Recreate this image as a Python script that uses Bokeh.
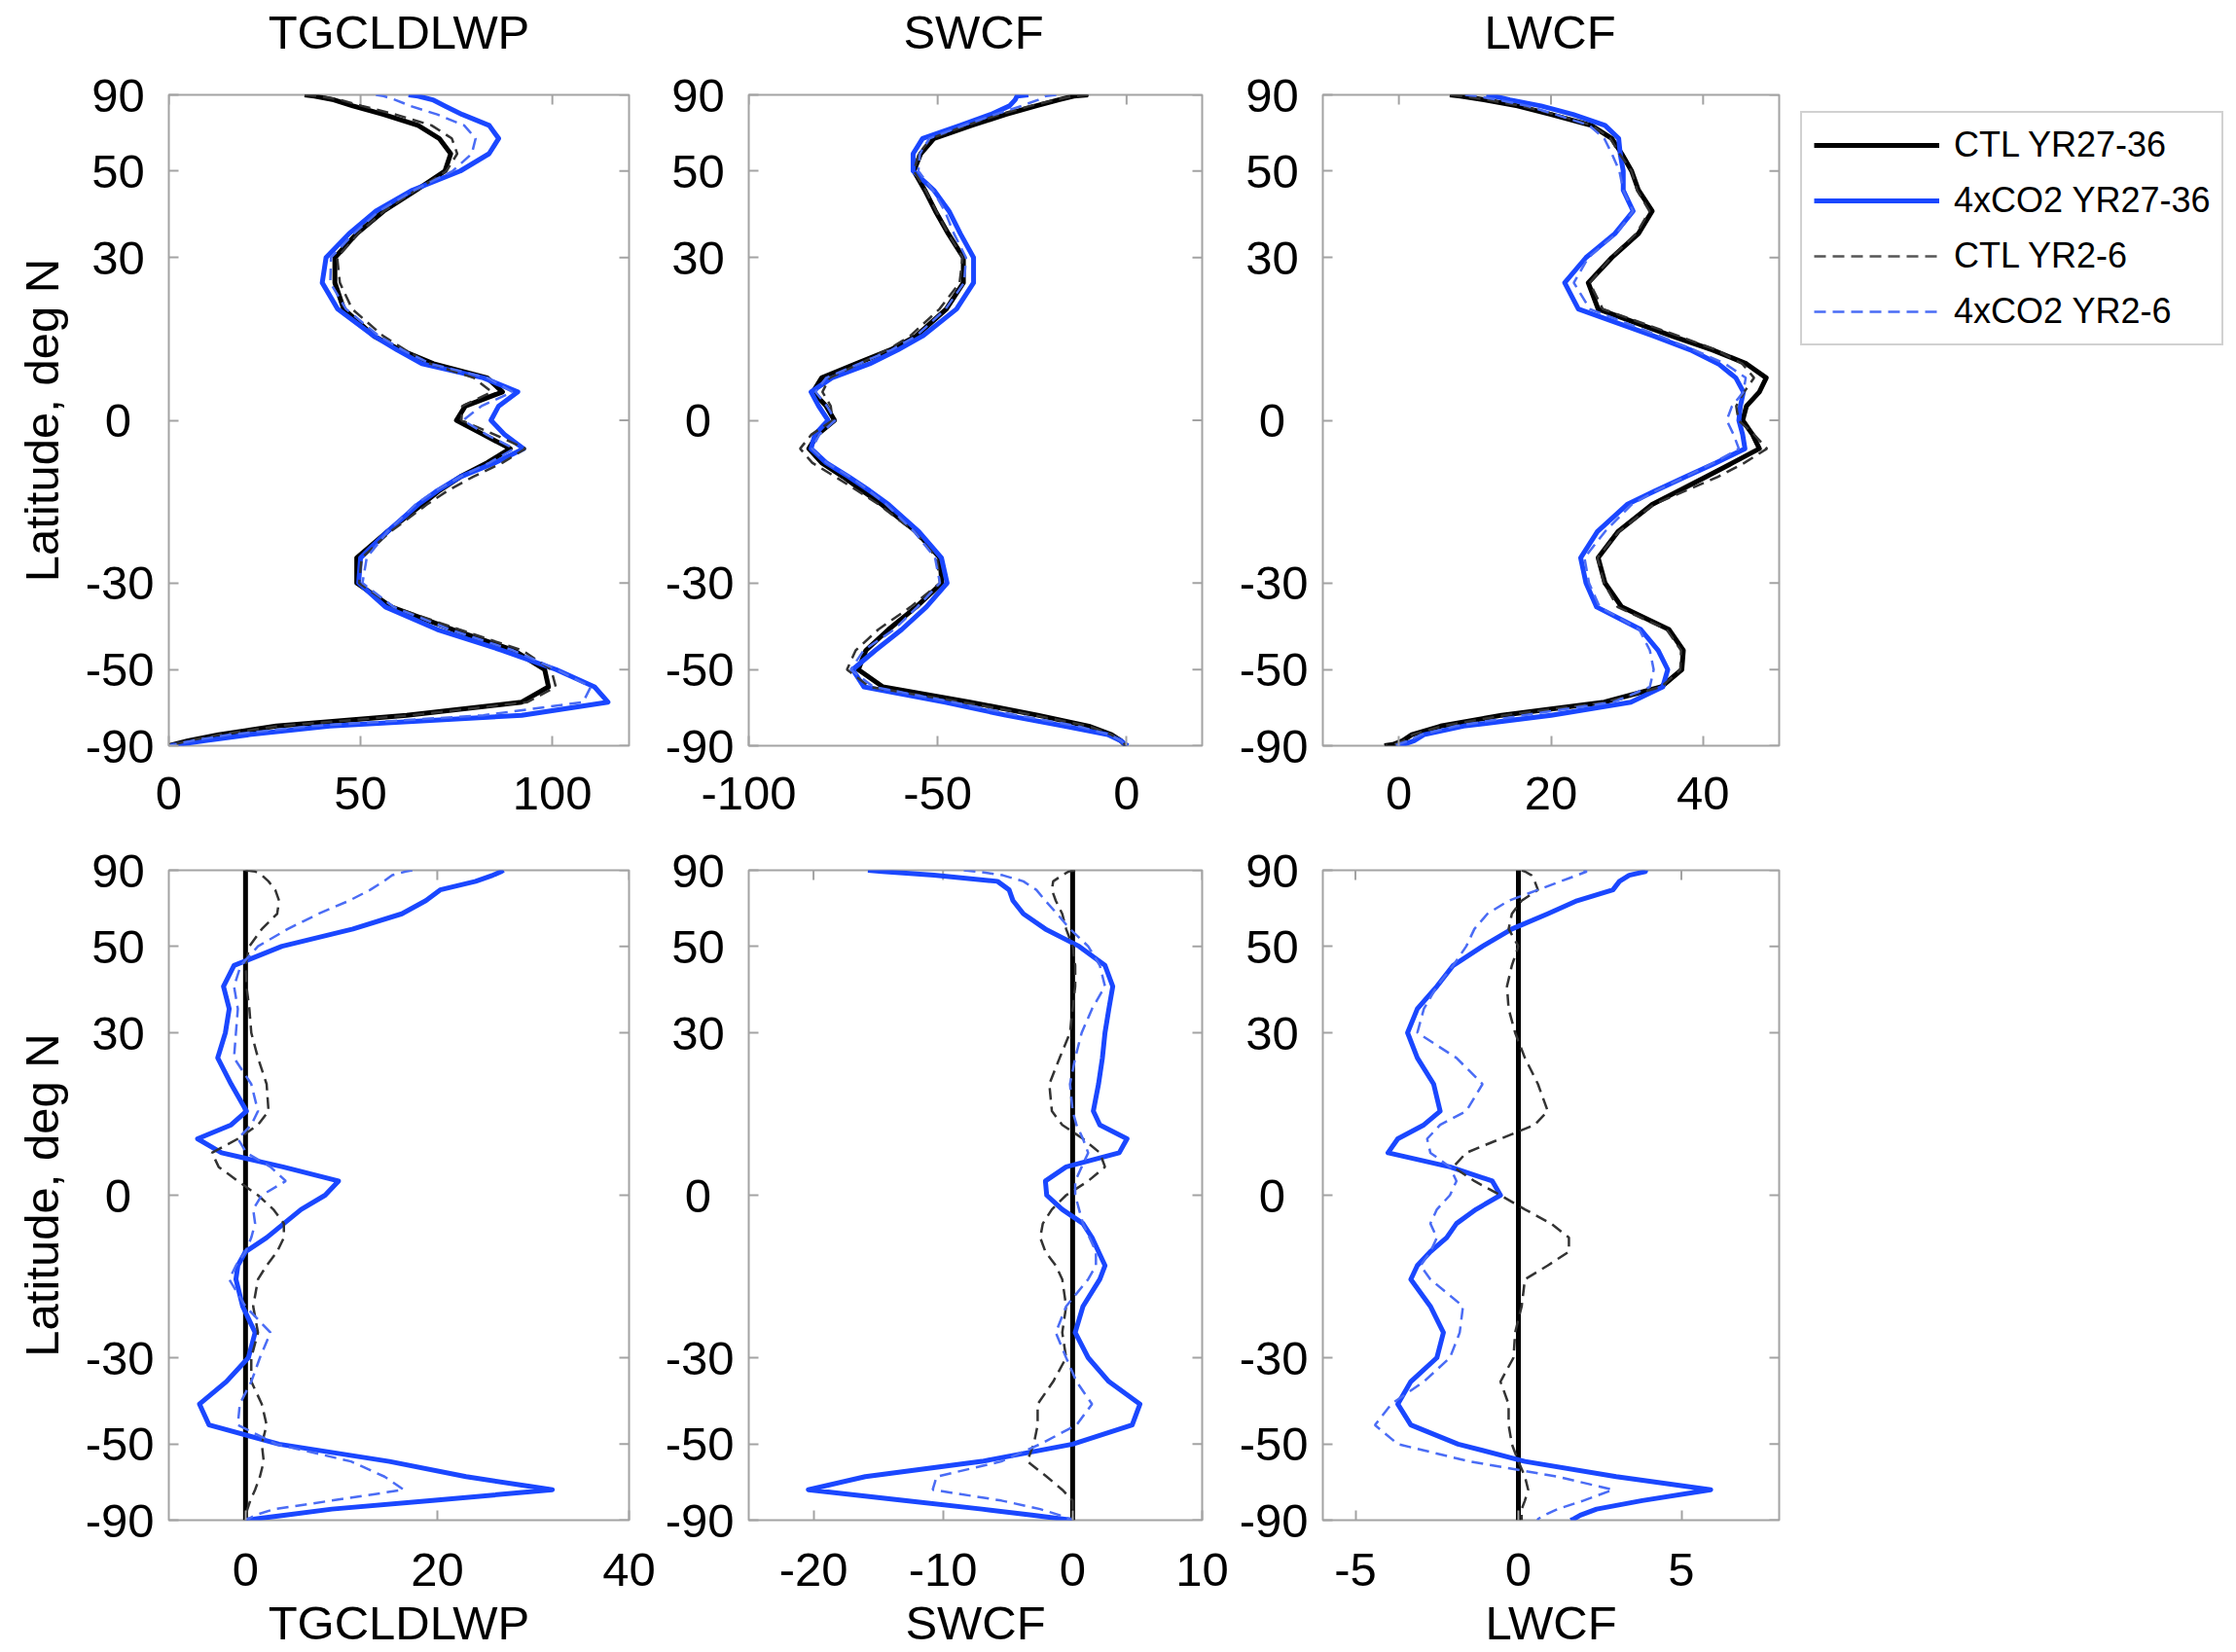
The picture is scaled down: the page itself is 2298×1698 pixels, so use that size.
import numpy as np
from bokeh.plotting import figure
from bokeh.models import Range1d, FixedTicker, CustomJSTickFormatter, Legend, LegendItem
from bokeh.core.properties import value
from bokeh.layouts import row, column
from bokeh.embed import file_html
from bokeh.resources import INLINE

# ---------------- data (latitude grid, north -> south) ----------------
LAT = [90, 85, 80, 75, 70, 65, 60, 55, 50, 45, 40, 35, 30, 25, 20, 15, 12.5, 10, 7.5, 5, 2.5, 0,
       -2.5, -5, -7.5, -10, -12.5, -15, -20, -25, -30, -35, -40, -45, -50, -55, -60, -65, -70, -75,
       -80, -85, -90]
LAT_TICKS = [-90, -50, -30, 0, 30, 50, 90]
POLE_LAT = [-90, 90]
ZERO_LINE = [0, 0]

SERIES = ["CTL YR27-36", "4xCO2 YR27-36", "CTL YR2-6", "4xCO2 YR2-6"]

# --- top row: absolute fields
LWP_CTL27 = [35.4, 38, 43, 48, 56, 65, 70.5, 73.5, 72, 64.5, 56, 49, 43.3, 43.3, 45.6, 53.5, 60.3, 69, 83, 87, 77.3, 75,
             82, 89, 83, 76, 70.5, 66, 57, 49, 49, 58, 74, 90, 98, 99, 92, 62, 28, 13, 5, 1.3, 0]
LWP_4X27 = [62.5, 65, 68.8, 72, 76.5, 83.5, 86, 83.5, 76, 63.5, 54, 47, 41, 40, 44, 53.5, 59.5, 66, 82, 91, 86, 84,
            87.5, 92.5, 85, 76, 70, 65, 57, 50, 49.5, 56.5, 70, 87, 101, 111, 114.5, 92, 42, 21, 9, 2.5, 0.5]
LWP_CTL26 = [35.4, 39, 44.7, 50.4, 59.1, 68.5, 73.8, 75.2, 72.4, 64.5, 56.1, 49.4, 43.9, 44.6, 47.8, 55.9, 61.6, 68.2,
             79.5, 84.2, 76.5, 76.3, 84.9, 93, 87, 79.3, 72.7, 67.3, 57.8, 50.3, 49.6, 58.6, 75.7, 92.2, 99.7, 100.9,
             93.5, 63, 28.5, 13.2, 5, 1.3, 0]
LWP_4X26 = [54, 56, 59, 63, 70, 77, 80, 79, 74, 64, 54.8, 48.2, 42.3, 42.1, 46.2, 54.8, 60.9, 68.2, 83.1, 89.6, 81.5,
            76.7, 82.8, 90, 83.6, 76, 69.5, 64.3, 57, 51.6, 50.5, 58.6, 73.2, 89.8, 101.2, 110, 108, 82, 37, 16, 6,
            1.6, 0]

SW_CTL27 = [-10.2, -14, -18, -24, -32, -41, -51, -54.5, -56.3, -53.4, -50.6, -47.2, -43.2, -43.2, -47.7, -55.7, -62.5,
            -71.6, -80.7, -83, -79.5, -77.3, -81.8, -84.1, -80.7, -75, -69.9, -64.8, -55.7, -49.4, -48.9, -55.7,
            -63, -69, -71, -64.5, -41.5, -23.5, -10, -4, -1.5, -0.5, 0]
SW_4X27 = [-26, -29, -29.5, -31, -36, -44, -54, -56.5, -56.5, -51, -47, -44, -40.5, -40.5, -45, -54, -60.5, -68,
           -78, -83.5, -81.5, -79, -82.5, -83.5, -79.5, -73.5, -68, -63, -55, -49, -47.5, -53, -59.5, -66.5, -72.5,
           -69.5, -48, -32, -16.5, -5, -1.5, -0.3, 0.4]
SW_CTL26 = [-10, -14.3, -18.8, -25.5, -33.6, -42.3, -51.8, -55, -56.3, -53.2, -50.4, -47.2, -43.4, -44.2, -49.5,
            -57.3, -63.3, -70.8, -78.6, -80.5, -78.3, -77.8, -83.4, -86.4, -83.2, -77.1, -71.2, -65.6, -56.2,
            -50.2, -49.4, -57.2, -65.7, -71.7, -74, -68, -43.5, -24.3, -10, -4, -1.5, -0.5, 0]
SW_4X26 = [-18.6, -21.4, -23.4, -27.8, -34.8, -43.1, -52.2, -54.7, -55.1, -51.3, -48.1, -45.7, -42.5, -43, -47.9,
           -55.7, -62.2, -70.8, -79.5, -82.3, -79.3, -77.1, -81.3, -83.3, -79.4, -73.2, -68.1, -63.6, -56.2,
           -50.7, -49.4, -55.4, -61.5, -69.6, -73, -67, -46, -29, -13, -4.5, -1.5, -0.4, 0]

LW_CTL27 = [6.7, 8.1, 11.2, 15.6, 20, 25.3, 28, 29.3, 30.6, 31.5, 33.3, 31.5, 28, 24.9, 26.2, 35.9, 41.2, 45.7, 48.3,
            47.4, 45.7, 45.2, 46.5, 47.4, 43.9, 40.4, 36.8, 33.3, 28.8, 26.2, 27.1, 29.3, 35.5, 37.4, 37.2, 34.5,
            27, 13.5, 5.5, 1.7, 0.5, -0.8, -1.9]
LW_4X27 = [11.5, 12.5, 14.6, 18.7, 22.9, 27.1, 28.9, 29.1, 29.5, 29.5, 30.8, 28.4, 24.6, 21.8, 23.6, 33.5, 38.3, 42,
           44.3, 45.3, 44.9, 44.7, 45.2, 45.5, 41.7, 37.7, 33.7, 30, 26.1, 23.9, 24.6, 26, 31.8, 34.1, 35.35, 34.7,
           30.5, 20, 8.5, 3.3, 2, 0.6, -0.2]
LW_CTL26 = [6.8, 8.3, 11.6, 16.1, 20.6, 25.4, 27.8, 29, 30.6, 31.3, 32.95, 31.2, 27.9, 25.1, 26.8, 36.8, 41.7, 45.15,
            46.7, 45.4, 44.35, 44.65, 46.7, 48.4, 45.45, 41.95, 37.7, 33.5, 28.9, 26.1, 26.95, 28.75, 35.2, 37.1,
            37, 34.5, 27.2, 13.8, 5.7, 1.8, 0.6, -0.7, -1.8]
LW_4X26 = [8.7, 10.2, 13, 16.9, 20.6, 25, 27, 28, 29, 29.5, 30.8, 28.6, 24.9, 23, 25.1, 34.3, 38.8, 42.9, 45.6, 45.3,
           43.8, 43.1, 44, 44.7, 41.4, 37.7, 33.8, 30.6, 27.1, 24.4, 25, 26.4, 31.6, 33, 33.5, 33, 28.2, 16.4, 7.5,
           2.9, 1.3, -0.2, -1.3]

# --- bottom row: differences from CTL YR27-36
D_LWP_4X27 = [26.9, 26.7, 25.8, 24, 20.3, 18.8, 16.3, 11.2, 3.8, -1.2, -2.3, -1.7, -2.1, -2.9, -1.5, 0.1, -1.5, -5.0,
              -2.5, 3.9, 9.7, 8.3, 5.8, 4, 2.2, 0, -0.8, -1, -0.3, 1, 0.3, -2.0, -4.8, -3.8, 3.5, 15, 23, 32, 19.5,
              9, 4, 1, 0]
D_LWP_CTL26 = [0, 1, 1.7, 2.4, 3.1, 3.5, 3.3, 1.7, 0.4, 0, 0.1, 0.4, 0.6, 1.3, 2.2, 2.4, 1.3, -0.8, -3.5, -2.8, -0.8,
               1.3, 2.9, 4, 4, 3.3, 2.2, 1.3, 0.8, 1.3, 0.6, 0.6, 1.7, 2.2, 1.7, 1.9, 1.5, 1.0, 0.5, 0.2, 0, 0, 0]
D_LWP_4X26 = [17.4, 16.7, 15.3, 14.4, 13, 10.8, 7.6, 4.4, 1.3, -0.5, -1.2, -0.8, -1, -1.2, 0.6, 1.3, 0.6, -0.8, 0.1,
              2.6, 4.2, 1.7, 0.8, 1, 0.6, 0, -1, -1.7, 0, 2.6, 1.5, 0.6, -0.6, -0.8, 3.2, 11, 14.5, 16.5, 9, 3, 1,
              0.3, 0]

D_SW_4X27 = [-15.8, -14.7, -10.7, -5.8, -4.9, -4.6, -3.8, -2.1, 0.5, 2.5, 3.1, 2.8, 2.5, 2.3, 2, 1.6, 2.1, 4.2, 3.6,
             -0.5, -2.1, -2.0, -0.8, 0.8, 1.5, 2, 2.5, 2.1, 0.8, 0.2, 1.2, 2.8, 5.2, 4.6, 0, -7, -16, -20.4, -13, -7,
             -3, -0.8, 0]
D_SW_CTL26 = [0.2, -0.3, -0.8, -1.5, -1.6, -1.3, -0.8, -0.5, 0, 0.2, 0.2, 0, -0.2, -1, -1.8, -1.6, -0.8, 0.8, 2.1,
              2.5, 1.2, -0.5, -1.6, -2.3, -2.5, -2.1, -1.3, -0.8, -0.5, -0.8, -0.5, -1.5, -2.7, -2.7, -3.0, -3.5,
              -2.0, -0.8, 0, 0, 0, 0, 0]
D_SW_4X26 = [-8.4, -7.4, -5.4, -3.8, -2.8, -2.1, -1.2, -0.2, 1.2, 2.1, 2.5, 1.5, 0.7, 0.2, -0.2, 0, 0.3, 0.8, 1.2,
             0.7, 0.2, 0.2, 0.5, 0.8, 1.3, 1.8, 1.8, 1.2, -0.5, -1.3, -0.5, 0.3, 1.5, 0.3, -2.5, -5.5, -10.5, -10.8,
             -5.5, -2.5, -1.0, -0.3, 0]

D_LW_4X27 = [3.9, 3.9, 3.4, 3.1, 2.9, 1.8, 0.9, -0.2, -1.1, -2, -2.5, -3.1, -3.4, -3.1, -2.6, -2.4, -2.9, -3.7, -4,
             -2.1, -0.8, -0.55, -1.3, -1.9, -2.2, -2.7, -3.1, -3.3, -2.7, -2.3, -2.5, -3.3, -3.7, -3.3, -1.85, 0.2,
             3.0, 5.9, 3.8, 2.4, 1.9, 1.7, 1.6]
D_LW_CTL26 = [0.1, 0.2, 0.4, 0.5, 0.6, 0.1, -0.2, -0.3, 0, -0.2, -0.35, -0.3, -0.1, 0.2, 0.6, 0.9, 0.5, -0.55, -1.6,
              -2.0, -1.35, -0.55, 0.2, 1.0, 1.55, 1.55, 0.9, 0.2, 0.1, -0.1, -0.15, -0.55, -0.3, -0.3, -0.2, 0, 0.2,
              0.3, 0.2, 0.1, 0.1, 0.1, 0.1]
D_LW_4X26 = [2, 2.1, 1.8, 1.3, 0.6, -0.3, -0.95, -1.35, -1.6, -2.0, -2.5, -2.9, -3.1, -1.9, -1.1, -1.6, -2.4, -2.8,
             -2.7, -2.1, -1.9, -2.1, -2.5, -2.7, -2.5, -2.7, -3, -2.7, -1.7, -1.8, -2.1, -2.9, -3.9, -4.4, -3.7, -1.5,
             1.2, 2.9, 2.0, 1.2, 0.8, 0.6, 0.6]

TITLES = ["TGCLDLWP", "SWCF", "LWCF"]
TOP_XRANGES = [(0, 120), (-100, 20), (-10, 50)]
TOP_XTICKS = [[0, 50, 100], [-100, -50, 0], [0, 20, 40]]
BOT_XRANGES = [(-8, 40), (-25, 10), (-6, 8)]
BOT_XTICKS = [[0, 20, 40], [-20, -10, 0, 10], [-5, 0, 5]]

# ---------------- styling ----------------
FONT = "Liberation Sans"
FS = "49px"
GRAY = "#a3a3a3"
BLUE = "#1a47ff"
BLUE_D = "#4a6cf5"
BLACK_D = "#333333"
DASH = "12 7"

Y = list(np.sin(np.radians(LAT)))
Y_POLE = list(np.sin(np.radians(POLE_LAT)))
Y_TICKS = list(np.sin(np.radians(LAT_TICKS)))

# latitude labels; short labels get trailing thin spaces so that they sit centred like the reference
LAT_FMT = CustomJSTickFormatter(code=r"""
const v = Math.round(Math.asin(Math.max(-1, Math.min(1, tick))) * 180 / Math.PI);
const s = v.toString();
if (s.length == 1) { return s + "\u2008\u2009"; }
if (v > 0) { return s + "\u2009"; }
return s;
""")
NUM_FMT = CustomJSTickFormatter(code="return tick.toString();")


def style_axis(ax, ticks, fmt):
    ax.ticker = FixedTicker(ticks=ticks)
    ax.formatter = fmt
    ax.minor_tick_line_color = None
    ax.major_tick_in = 10
    ax.major_tick_out = 0
    ax.major_tick_line_color = GRAY
    ax.major_tick_line_width = 2
    ax.axis_line_color = None
    ax.major_label_text_font = FONT
    ax.major_label_text_font_size = FS
    ax.major_label_text_color = "black"


def label_axis(ax, text, standoff):
    ax.axis_label = text
    ax.axis_label_text_font = FONT
    ax.axis_label_text_font_size = FS
    ax.axis_label_text_font_style = "normal"
    ax.axis_label_text_color = "black"
    ax.axis_label_text_line_height = 1.0
    ax.axis_label_standoff = standoff


def make_fig(w, h, bl, br, bt, bb, xr, xticks, xstand, xlabel=None, ylabel=None):
    p = figure(width=w, height=h, x_range=Range1d(*xr), y_range=Range1d(-1, 1),
               output_backend="svg", toolbar_location=None,
               min_border_left=bl, min_border_right=br, min_border_top=bt, min_border_bottom=bb)
    p.xgrid.visible = False
    p.ygrid.visible = False
    p.outline_line_color = GRAY
    p.outline_line_width = 2
    p.background_fill_color = "white"
    p.border_fill_color = "white"

    xax = p.xaxis[0]
    yax = p.yaxis[0]
    style_axis(xax, xticks, NUM_FMT)
    xax.major_label_standoff = xstand
    style_axis(yax, Y_TICKS, LAT_FMT)
    yax.major_label_standoff = 15

    # inward tick marks on the top and right edges of the box (outer half clipped by the frame)
    p.scatter(xticks, [1] * len(xticks), marker="dash", size=20, angle=np.pi / 2,
              line_color=GRAY, line_width=2)
    p.scatter([xr[1]] * len(Y_TICKS), Y_TICKS, marker="dash", size=20,
              line_color=GRAY, line_width=2)

    if xlabel:
        label_axis(xax, xlabel, 8)
    if ylabel:
        label_axis(yax, ylabel, 15)
    return p


def title_fig(w, h, center_x, text):
    p = figure(width=w, height=h, x_range=Range1d(0, w), y_range=Range1d(0, h),
               x_axis_type=None, y_axis_type=None, output_backend="svg", toolbar_location=None,
               min_border=0)
    p.outline_line_color = None
    p.xgrid.visible = False
    p.ygrid.visible = False
    p.text(x=[center_x], y=[h / 2], text=[text], text_align="center", text_baseline="middle",
           text_font=value(FONT), text_font_size=value(FS), text_color="black")
    return p


def draw_top(p, ctl27, x427, ctl26, x426):
    p.line(ctl27, Y, line_color="black", line_width=5, line_join="round")
    p.line(x427, Y, line_color=BLUE, line_width=5, line_join="round")
    p.line(ctl26, Y, line_color=BLACK_D, line_width=2.5, line_dash=DASH)
    p.line(x426, Y, line_color=BLUE_D, line_width=2.5, line_dash=DASH)


def draw_bottom(p, d427, dctl26, d426):
    p.line(ZERO_LINE, Y_POLE, line_color="black", line_width=5)
    p.line(d427, Y, line_color=BLUE, line_width=5, line_join="round")
    p.line(dctl26, Y, line_color=BLACK_D, line_width=2.5, line_dash=DASH)
    p.line(d426, Y, line_color=BLUE_D, line_width=2.5, line_dash=DASH)


# frame x positions (page px): 173-646, 765-1235, 1357-1828
FW1, FW2, FW3 = 473, 470, 471
W1, BL1, BR1 = 680, 173, 34
W2, BL2, BR2 = 590, 85, 35
BL3 = 87
BR3_TOP, BR3_BOT = 5, 35
W3_TOP = BL3 + FW3 + BR3_TOP
W3_BOT = BL3 + FW3 + BR3_BOT
WLEG = 2298 - (W1 + W2 + W3_TOP)

TITLE_H = 64
TOP_H, TOP_BT, TOP_BB = 786, 33, 84
BOT_H, BOT_BT, BOT_BB = 847, 44, 132

h1 = title_fig(W1, TITLE_H, BL1 + FW1 / 2, TITLES[0])
h2 = title_fig(W2, TITLE_H, BL2 + FW2 / 2, TITLES[1])
h3 = title_fig(W3_TOP, TITLE_H, BL3 + FW3 / 2, TITLES[2])

t1 = make_fig(W1, TOP_H, BL1, BR1, TOP_BT, TOP_BB, TOP_XRANGES[0], TOP_XTICKS[0], 32, ylabel="Latitude, deg N")
t2 = make_fig(W2, TOP_H, BL2, BR2, TOP_BT, TOP_BB, TOP_XRANGES[1], TOP_XTICKS[1], 32)
t3 = make_fig(W3_TOP, TOP_H, BL3, BR3_TOP, TOP_BT, TOP_BB, TOP_XRANGES[2], TOP_XTICKS[2], 32)

draw_top(t1, LWP_CTL27, LWP_4X27, LWP_CTL26, LWP_4X26)
draw_top(t2, SW_CTL27, SW_4X27, SW_CTL26, SW_4X26)
draw_top(t3, LW_CTL27, LW_4X27, LW_CTL26, LW_4X26)

# legend panel (legend samples come from off-range renderers)
leg = figure(width=WLEG, height=TOP_H, x_range=Range1d(0, 1), y_range=Range1d(0, 1),
             x_axis_type=None, y_axis_type=None, output_backend="svg", toolbar_location=None,
             min_border_left=0, min_border_right=0, min_border_top=TOP_BT, min_border_bottom=TOP_BB)
leg.outline_line_color = None
leg.xgrid.visible = False
leg.ygrid.visible = False
OFF = [5, 6]
g1 = leg.line(OFF, OFF, line_color="black", line_width=5)
g2 = leg.line(OFF, OFF, line_color=BLUE, line_width=5)
g3 = leg.line(OFF, OFF, line_color="#555555", line_width=2.5, line_dash=DASH)
g4 = leg.line(OFF, OFF, line_color=BLUE_D, line_width=2.5, line_dash=DASH)
legend = Legend(items=[LegendItem(label=s, renderers=[r]) for s, r in zip(SERIES, [g1, g2, g3, g4])],
                location="top_left")
legend.label_text_font = FONT
legend.label_text_font_size = "36px"
legend.label_text_color = "black"
legend.glyph_width = 129
legend.glyph_height = 40
legend.label_standoff = 15
legend.spacing = 15
legend.padding = 12
legend.margin = 17
legend.border_line_color = GRAY
legend.border_line_width = 2
leg.add_layout(legend, "center")

b1 = make_fig(W1, BOT_H, BL1, BR1, BOT_BT, BOT_BB, BOT_XRANGES[0], BOT_XTICKS[0], 34, xlabel=TITLES[0],
              ylabel="Latitude, deg N")
b2 = make_fig(W2, BOT_H, BL2, BR2, BOT_BT, BOT_BB, BOT_XRANGES[1], BOT_XTICKS[1], 34, xlabel=TITLES[1])
b3 = make_fig(W3_BOT, BOT_H, BL3, BR3_BOT, BOT_BT, BOT_BB, BOT_XRANGES[2], BOT_XTICKS[2], 34, xlabel=TITLES[2])

draw_bottom(b1, D_LWP_4X27, D_LWP_CTL26, D_LWP_4X26)
draw_bottom(b2, D_SW_4X27, D_SW_CTL26, D_SW_4X26)
draw_bottom(b3, D_LW_4X27, D_LW_CTL26, D_LW_4X26)

layout = column(row(h1, h2, h3), row(t1, t2, t3, leg), row(b1, b2, b3))

with open("out.html", "w") as f:
    f.write(file_html(layout, INLINE))
